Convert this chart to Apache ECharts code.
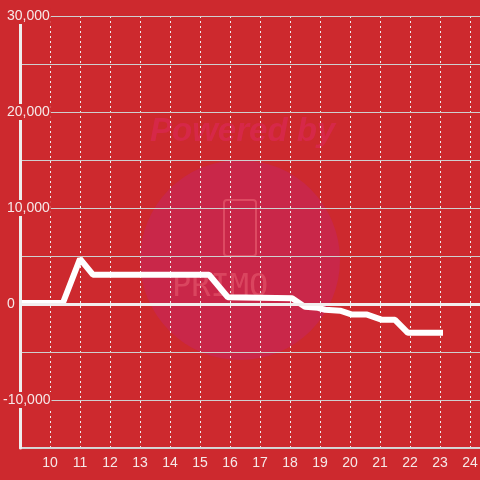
<!DOCTYPE html>
<html>
<head>
<meta charset="utf-8">
<script src="https://cdn.jsdelivr.net/npm/echarts@6/dist/echarts.min.js"></script>
<style>
html,body{margin:0;padding:0;background:#cd292e;}
#c{width:480px;height:480px;}
</style>
</head>
<body>
<div id="c"></div>
<script>
// x positions (hours) and values
var xValues = [9, 10.43, 11.0, 11.43, 15.3, 15.93, 18.07, 18.5, 18.93, 19.17, 19.67, 20.07, 20.57, 21.07, 21.5, 21.93, 23.1];
var yValues = [100, 100, 4700, 3050, 3050, 700, 600, -300, -400, -600, -700, -1100, -1100, -1650, -1650, -3000, -3000];
var yTicks = [-15000, 30000, 5000];
var xTicks = [9, 24.333, 1];

var bg = '#cd292e';
var seriesData = xValues.map(function (x, i) { return [x, yValues[i]]; });

var chart = echarts.init(document.getElementById('c'), null, {renderer: 'canvas'});
chart.setOption({
  backgroundColor: bg,
  animation: false,
  graphic: [
    {type: 'circle', shape: {cx: 240, cy: 260, r: 100}, style: {fill: '#c92749'}, z: -10, silent: true},
    {type: 'text', left: 150, top: 115, style: {text: 'Powered by', fill: 'rgba(215,40,75,0.9)', font: 'italic bold 33px "Liberation Sans", Arial, sans-serif'}, z: -9, silent: true},
    {type: 'rect', shape: {x: 224, y: 200, width: 32, height: 56, r: 3}, style: {fill: 'none', stroke: 'rgba(230,90,110,0.7)', lineWidth: 2}, z: -9, silent: true},
    {type: 'text', left: 172, top: 272, style: {text: 'PRIMO', fill: 'rgba(230,90,110,0.6)', font: '32px "DejaVu Sans Mono", monospace'}, z: -9, silent: true}
  ],
  grid: {left: 20, right: 0, top: 16, bottom: 32, containLabel: false, outerBoundsMode: 'none'},
  xAxis: {
    type: 'value',
    min: xTicks[0], max: xTicks[1], interval: xTicks[2],
    axisLine: {show: true, onZero: false, lineStyle: {color: '#d8d8d8', width: 2}},
    axisTick: {show: false},
    axisLabel: {color: '#f6e8e8', fontSize: 14, fontFamily: '"Liberation Sans", Arial, sans-serif', margin: 8, showMinLabel: false, showMaxLabel: false},
    splitLine: {show: true, lineStyle: {color: '#eeeeee', width: 1, type: [2, 3]}}
  },
  yAxis: {
    type: 'value',
    min: yTicks[0], max: yTicks[1], interval: yTicks[2],
    axisLine: {show: true, lineStyle: {color: '#eeeeee', width: 3}},
    axisTick: {show: false},
    splitLine: {show: true, lineStyle: {color: '#cfcfcf', width: 1}},
    axisLabel: {
      margin: 18,
      align: 'left',
      showMinLabel: false,
      formatter: function (v) {
        if (v % 10000 !== 0) return '';
        return (v < 0 ? '{n|' : '{b|') + v.toLocaleString('en-US') + '}';
      },
      rich: {
        b: {color: '#f6e8e8', fontSize: 14, fontFamily: '"Liberation Sans", Arial, sans-serif', backgroundColor: bg, padding: [1, 1, 1, 5], lineHeight: 14},
        n: {color: '#f6e8e8', fontSize: 14, fontFamily: '"Liberation Sans", Arial, sans-serif', backgroundColor: bg, padding: [1, 1, 1, 1], lineHeight: 14}
      }
    },
    z: 5
  },
  series: [{
    type: 'line',
    data: seriesData,
    showSymbol: false,
    symbol: 'none',
    lineStyle: {color: '#ffffff', width: 6},
    markLine: {
      silent: true,
      symbol: 'none',
      label: {show: false},
      lineStyle: {color: '#f2eeee', width: 3, type: 'solid'},
      data: [{yAxis: 0}]
    }
  }]
});
</script>
</body>
</html>
